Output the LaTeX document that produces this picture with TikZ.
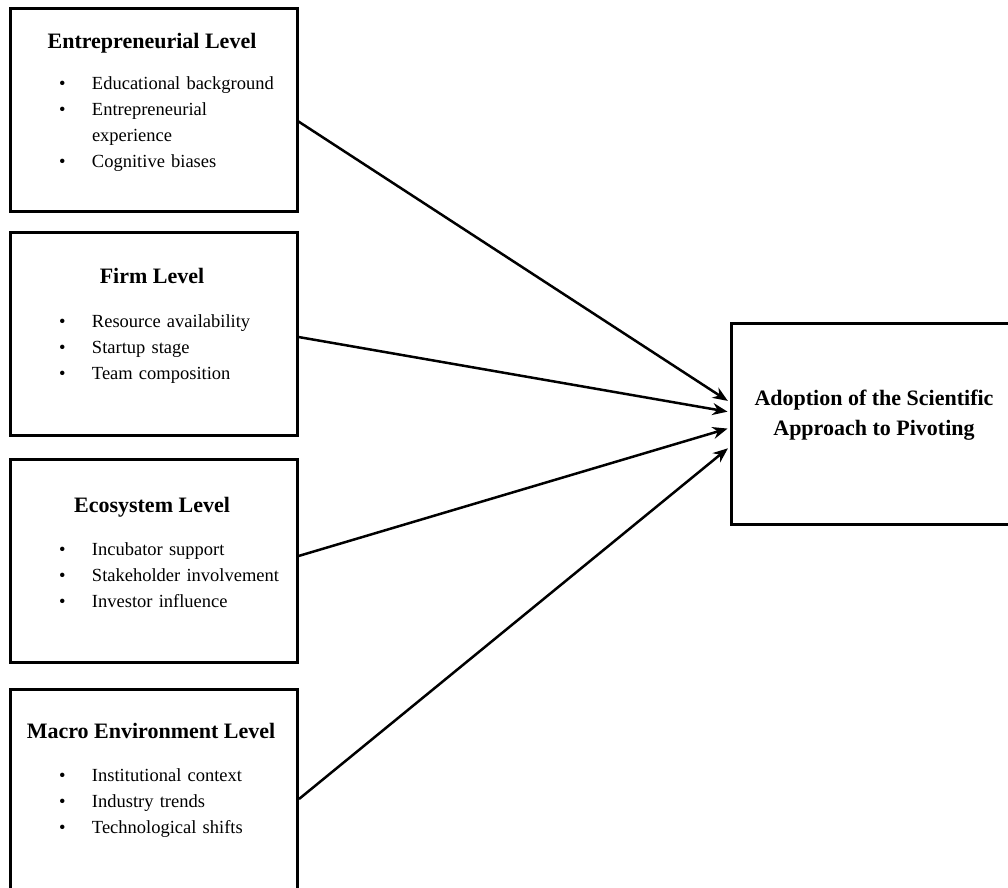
\documentclass[tikz,border=0pt]{standalone}
\usepackage{fontspec}
\setmainfont{Liberation Serif}
\usetikzlibrary{arrows.meta}
\newcommand{\lvlbullet}{\makebox[33pt][l]{\textbullet}}
\newcommand{\lvlindent}{\hspace*{33pt}}

\begin{document}
\begin{tikzpicture}[
x = 1pt, y = 1pt,
lvlbox/.style={rectangle, draw = black, line width = 3pt, inner sep = 0,
minimum width = 287pt, minimum height = 203pt},
lvltitle/.style={font = \fontsize{22}{26}\selectfont\bfseries, inner sep = 0,
text height = 15pt, text depth = 5pt},
itm/.style={font = \fontsize{18.5}{22}\selectfont, inner sep = 0, align = left,
text width = 240pt, text height = 13pt, text depth = 5pt},
outbox/.style={rectangle, draw = black, line width = 3pt, inner sep = 0,
minimum width = 285pt, minimum height = 201pt},
arr/.style={-{Stealth[length = 15pt, width = 12pt]}, line width = 2.5pt, shorten > = 2pt},
node distance = 26pt]

\useasboundingbox (0,0) rectangle (1008,-887);

\node[lvlbox] (E) at (153.5,-109.5) {};
\node[lvltitle] (Et) at (152,-43) {Entrepreneurial Level};
\node[itm] (E1) at (179,-85) {\lvlbullet Educational background};
\node[itm, below of = E1] (E2) {\lvlbullet Entrepreneurial};
\node[itm, below of = E2] (E3) {\lvlindent experience};
\node[itm, below of = E3] (E4) {\lvlbullet Cognitive biases};

\node[lvlbox] (F) at (153.5,-334) {};
\node[lvltitle] (Ft) at (152,-278) {Firm Level};
\node[itm] (F1) at (179,-323) {\lvlbullet Resource availability};
\node[itm, below of = F1] (F2) {\lvlbullet Startup stage};
\node[itm, below of = F2] (F3) {\lvlbullet Team composition};

\node[lvlbox] (ES) at (153.5,-560.5) {};
\node[lvltitle] (ESt) at (152,-507) {Ecosystem Level};
\node[itm] (ES1) at (179,-551) {\lvlbullet Incubator support};
\node[itm, below of = ES1] (ES2) {\lvlbullet Stakeholder involvement};
\node[itm, below of = ES2] (ES3) {\lvlbullet Investor influence};

\node[lvlbox] (M) at (154,-790.5) {};
\node[lvltitle] (Mt) at (151,-733) {Macro Environment Level};
\node[itm] (M1) at (179,-777) {\lvlbullet Institutional context};
\node[itm, below of = M1] (M2) {\lvlbullet Industry trends};
\node[itm, below of = M2] (M3) {\lvlbullet Technological shifts};

\node[outbox] (A) at (873.5,-423.5) {};
\node[lvltitle, align = center, text height = , text depth = ,
font = \fontsize{22}{30}\selectfont\bfseries] (At) at (874,-415)
{Adoption of the Scientific\\Approach to Pivoting};

\draw[arr] ([yshift=-12pt]E.east) -- ([yshift=21.5pt]A.west);
\draw[arr] ([yshift=-3pt]F.east) -- ([yshift=11.5pt]A.west);
\draw[arr] ([yshift=4.5pt]ES.east) -- ([yshift=-4.5pt]A.west);
\draw[arr] ([yshift=-8.5pt]M.east) -- ([yshift=-23.5pt]A.west);

\end{tikzpicture}
\end{document}
